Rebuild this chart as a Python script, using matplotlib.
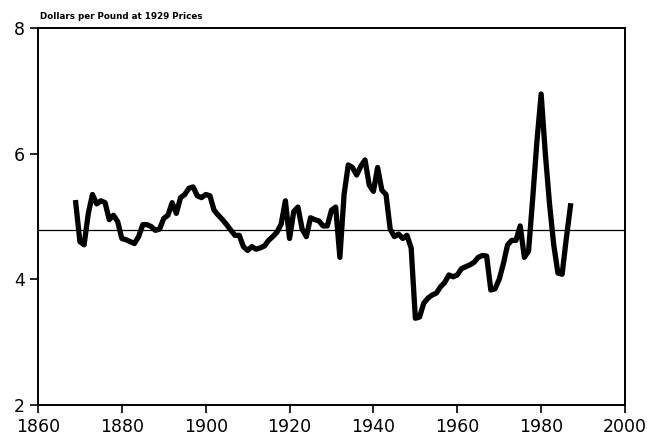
import matplotlib
matplotlib.use("Agg")
import matplotlib.pyplot as plt

# real price per pound, annual, 1869-1987
years = list(range(1869, 1988))
price = [5.22, 4.6, 4.55, 5.05, 5.35, 5.2, 5.25, 5.22, 4.95, 5.02, 4.92,
         4.65, 4.63, 4.6, 4.57, 4.68, 4.87, 4.87, 4.84, 4.78, 4.8,
         4.97, 5.02, 5.22, 5.05, 5.3, 5.35, 5.45, 5.47, 5.33, 5.3,
         5.35, 5.33, 5.1, 5.02, 4.95, 4.87, 4.78, 4.7, 4.7, 4.52,
         4.46, 4.52, 4.48, 4.5, 4.53, 4.62, 4.68, 4.75, 4.88, 5.25,
         4.65, 5.08, 5.15, 4.8, 4.68, 4.98, 4.95, 4.93, 4.85, 4.85,
         5.1, 5.15, 4.35, 5.35, 5.82, 5.78, 5.66, 5.8, 5.9, 5.5,
         5.4, 5.78, 5.42, 5.35, 4.8, 4.68, 4.72, 4.65, 4.7, 4.5,
         3.38, 3.4, 3.62, 3.7, 3.75, 3.78, 3.88, 3.95, 4.07, 4.04,
         4.07, 4.17, 4.2, 4.23, 4.27, 4.35, 4.38, 4.37, 3.83, 3.85,
         4.0, 4.25, 4.55, 4.62, 4.62, 4.85, 4.35, 4.45, 5.3, 6.2,
         6.95, 6.0, 5.2, 4.55, 4.1, 4.08, 4.65, 5.17]
mean_price = 4.79

xticks = [1860, 1880, 1900, 1920, 1940, 1960, 1980, 2000]
yticks = [2, 4, 6, 8]

fig = plt.figure(figsize=(6.47, 4.42), dpi=100)
ax = fig.add_axes([0.0587, 0.0837, 0.9073, 0.853])

ax.plot(years, price, color="black", linewidth=3.8, solid_joinstyle="round")
ax.axhline(mean_price, color="black", linewidth=0.9)

ax.set_xlim(1860, 2000)
ax.set_ylim(2, 8)
ax.set_xticks(xticks)
ax.set_yticks(yticks)
ax.tick_params(direction="out", length=6, width=1.2, labelsize=12.5)
for s in ax.spines.values():
    s.set_linewidth(1.4)

fig.text(0.062, 0.962, "Dollars per Pound at 1929 Prices", fontsize=6.3,
         fontweight="bold", ha="left", va="center")

fig.savefig("out.png", dpi=100)
